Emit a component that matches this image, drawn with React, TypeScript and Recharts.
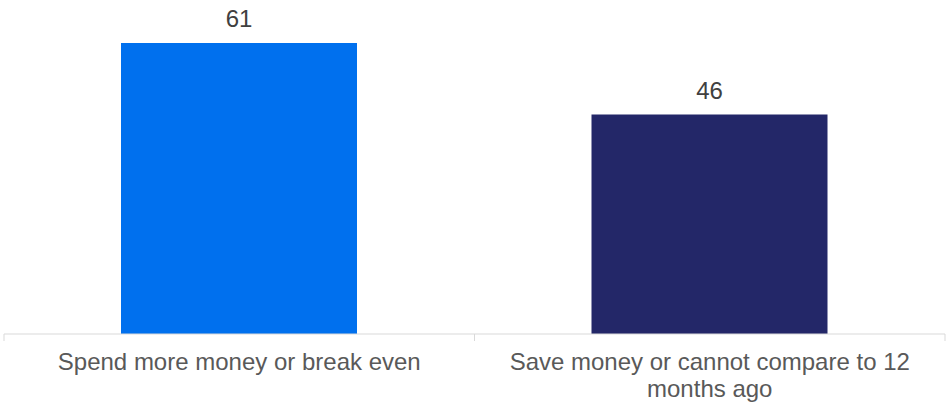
import React from 'react';
import { BarChart, Bar, XAxis, YAxis, Cell, LabelList } from 'recharts';

const categories = ['Spend more money or break even', 'Save money or cannot compare to 12 months ago'];
const values = [61, 46];
const barColors = ['#0070EE', '#232768'];

const data = categories.map((name, i) => ({ name, value: values[i] }));

const WIDTH = 946;
const HEIGHT = 405;
const LEFT = 4;
const RIGHT = 1;
const BAND = (WIDTH - LEFT - RIGHT) / categories.length;
const FONT = '24px "Liberation Sans", Arial, sans-serif';

// greedy word wrap using canvas text metrics
let ctx: CanvasRenderingContext2D | null = null;
const wrap = (text: string, maxWidth: number) => {
  if (!ctx) {
    ctx = document.createElement('canvas').getContext('2d');
  }
  if (ctx) ctx.font = FONT;
  const measure = (s: string) => (ctx ? ctx.measureText(s).width : s.length * 12);
  const lines: string[] = [];
  let line = '';
  text.split(' ').forEach((word) => {
    const next = line ? `${line} ${word}` : word;
    if (measure(next) > maxWidth && line) {
      lines.push(line);
      line = word;
    } else {
      line = next;
    }
  });
  if (line) lines.push(line);
  return lines;
};

// category label plus the small tick marks at the band edges
const CategoryTick = (props: any) => {
  const { x, y, payload, index } = props;
  const left = x - BAND / 2;
  const right = x + BAND / 2;
  const lines = wrap(String(payload.value), 440);
  return (
    <g>
      <line x1={left} x2={left} y1={y - 7} y2={y} stroke="#d9d9d9" strokeWidth={1} />
      {index === categories.length - 1 && (
        <line x1={right} x2={right} y1={y - 7} y2={y} stroke="#d9d9d9" strokeWidth={1} />
      )}
      <text
        x={x}
        y={y + 29}
        textAnchor="middle"
        fill="#595959"
        style={{ font: FONT }}
      >
        {lines.map((l, i) => (
          <tspan key={i} x={x} dy={i === 0 ? 0 : 27}>
            {l}
          </tspan>
        ))}
      </text>
    </g>
  );
};

const App: React.FC = () => {
  return (
    <div style={{ position: 'absolute', left: 0, top: 0, background: '#fff' }}>
      <BarChart
        width={WIDTH}
        height={HEIGHT}
        data={data}
        margin={{ top: 0, right: RIGHT, left: LEFT, bottom: 0 }}
      >
        <XAxis
          dataKey="name"
          height={71}
          axisLine={{ stroke: '#d9d9d9', strokeWidth: 1 }}
          tickLine={false}
          tickSize={7}
          tickMargin={0}
          interval={0}
          tick={<CategoryTick />}
        />
        <YAxis hide domain={[0, 70]} />
        <Bar dataKey="value" barSize={236} isAnimationActive={false}>
          {data.map((d, i) => (
            <Cell key={d.name} fill={barColors[i]} />
          ))}
          <LabelList
            dataKey="value"
            position="top"
            offset={16}
            style={{ fontSize: 24, fontFamily: '"Liberation Sans", Arial, sans-serif', fill: '#404040' }}
          />
        </Bar>
      </BarChart>
    </div>
  );
};

export default App;
